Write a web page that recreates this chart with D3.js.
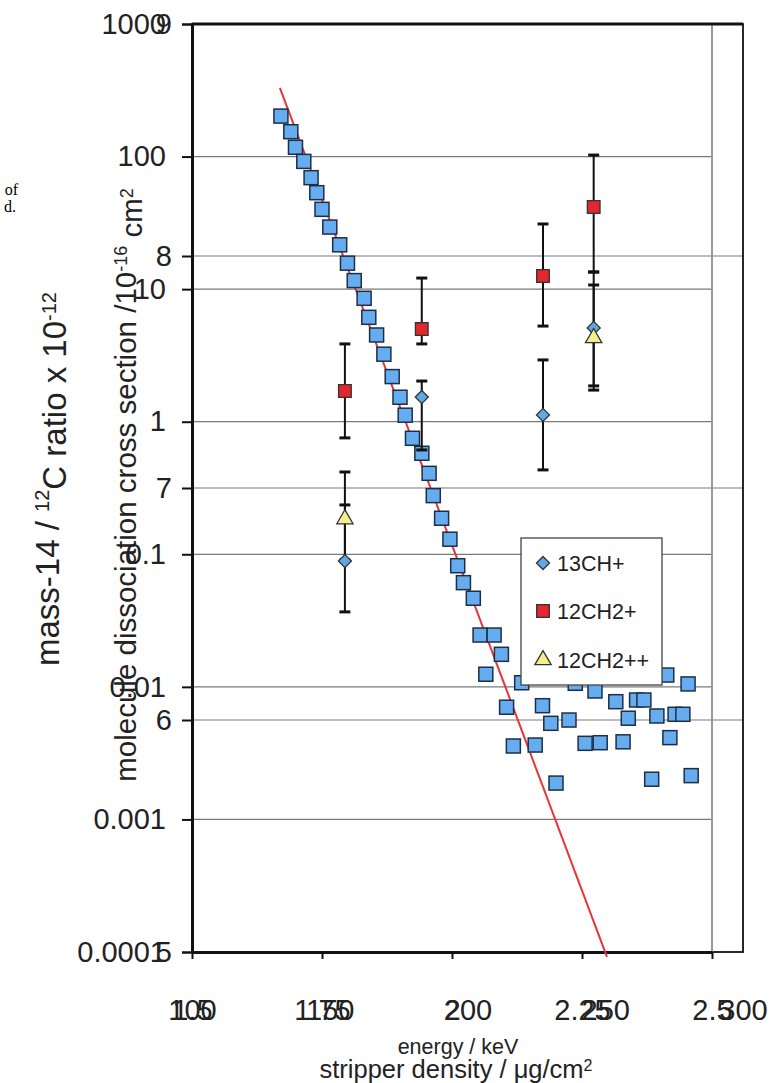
<!DOCTYPE html>
<head>
  <meta charset="utf-8">
  <style>
    body { margin: 0; background: #fff; }
    svg text { font-family: "Liberation Sans", Arial, sans-serif; fill: #222; }
    svg .grid { stroke: #7a7a7a; stroke-width: 1.2px; }
    svg .tick line { stroke: #111; stroke-width: 2px; }
  </style>
</head>
<body>
<script src="https://d3js.org/d3.v7.min.js"></script>
<script>
// ---- chart A: mass-14 ratio vs stripper density (log y) ----
var densityTicks = [1.5, 1.75, 2, 2.25, 2.5];
var ratioTicks = [1000, 100, 10, 1, 0.1, 0.01, 0.001, 0.0001];
var ratioGrid = [100, 10, 1, 0.1, 0.01, 0.001];

var density = [1.671, 1.690, 1.699, 1.715, 1.729, 1.740, 1.750, 1.765, 1.784, 1.799,
               1.812, 1.831, 1.840, 1.855, 1.869, 1.885, 1.900, 1.910, 1.924, 1.942,
               1.956, 1.964, 1.980, 1.996, 2.011, 2.022, 2.041, 2.054, 2.081, 2.095,
               2.065, 2.134, 2.237, 2.275, 2.413, 2.454, 2.105, 2.174, 2.315, 2.355,
               2.369, 2.190, 2.225, 2.339, 2.394, 2.429, 2.444, 2.118, 2.160, 2.256,
               2.285, 2.329, 2.419, 2.200, 2.384, 2.460];
var ratio = [202, 154, 117.5, 92, 69.3, 53.4, 40.0, 29.4, 21.6, 15.7,
             11.6, 8.53, 6.13, 4.51, 3.23, 2.19, 1.53, 1.12, 0.750, 0.578,
             0.408, 0.277, 0.187, 0.130, 0.0820, 0.0611, 0.0466, 0.0246, 0.0246, 0.0176,
             0.01245, 0.01074, 0.01064, 0.00931, 0.01228, 0.01052, 0.00702, 0.00721, 0.00773, 0.00796,
             0.00796, 0.00531, 0.00562, 0.00580, 0.00603, 0.00621, 0.00621, 0.00358, 0.00364, 0.00375,
             0.00379, 0.00385, 0.00414, 0.00188, 0.00201, 0.00214];

// fitted exponential, end points
var fitDensity = [1.669, 2.298];
var fitRatio = [330, 9.2e-5];

// ---- chart B: cross section vs energy (linear y) ----
var energyTicks = [100, 150, 200, 250, 300];
var crossTicks = [9, 8, 7, 6, 5];
var crossGrid = [8, 7, 6];

var energy   = [155.5, 183.4, 227.4, 245.8];
var ch13     = [6.685, 7.392, 7.315, 7.690];
var ch13Lo   = [6.466, 7.164, 7.078, 7.440];
var ch13Hi   = [6.927, 7.461, 7.552, 7.931];
var ch2      = [7.418, 7.685, 7.914, 8.211];
var ch2Lo    = [7.216, 7.621, 7.698, 7.931];
var ch2Hi    = [7.621, 7.905, 8.138, 8.435];
var ch2pp    = [6.866, null, null, 7.647];
var ch2ppLo  = [6.690, null, null, 7.422];
var ch2ppHi  = [7.069, null, null, 7.875];

var seriesNames = ["13CH+", "12CH2+", "12CH2++"];

// ---- layout ----
var W = 770, H = 1083;
var plotL = 192, plotRA = 712, plotRB = 743, plotT = 24, plotB = 952;

var svg = d3.select("body").append("svg")
    .attr("width", W).attr("height", H);

var xA = d3.scaleLinear().domain([1.5, 2.5]).range([plotL, plotRA]);
var yA = d3.scaleLog().domain([0.0001, 1000]).range([plotB, plotT]);
var xB = d3.scaleLinear().domain([100, 300]).range([plotL, plotRB]);
var yB = d3.scaleLinear().domain([5, 9]).range([plotB, plotT]);

// stray text from the page this was cut from
svg.append("text").attr("x", 18).attr("y", 195).attr("text-anchor", "end")
    .style("font-family", "'Liberation Serif', serif").style("font-size", "16px").style("fill", "#000").text("of");
svg.append("text").attr("x", 16).attr("y", 212).attr("text-anchor", "end")
    .style("font-family", "'Liberation Serif', serif").style("font-size", "16px").style("fill", "#000").text("d.");

// gridlines
svg.selectAll("line.gridA").data(ratioGrid).enter().append("line")
    .attr("class", "grid")
    .attr("x1", plotL).attr("x2", plotRA)
    .attr("y1", function(d) { return yA(d); }).attr("y2", function(d) { return yA(d); });
svg.selectAll("line.gridB").data(crossGrid).enter().append("line")
    .attr("class", "grid")
    .attr("x1", plotL).attr("x2", plotRB)
    .attr("y1", function(d) { return yB(d); }).attr("y2", function(d) { return yB(d); });

// frames
svg.append("rect")
    .attr("x", plotL).attr("y", plotT)
    .attr("width", plotRB - plotL).attr("height", plotB - plotT)
    .style("fill", "none").style("stroke", "#111").style("stroke-width", 1.8);
svg.append("line")
    .attr("x1", plotRA).attr("x2", plotRA).attr("y1", plotT).attr("y2", plotB)
    .style("stroke", "#999").style("stroke-width", 2);
svg.append("line")
    .attr("x1", plotL).attr("x2", plotRB).attr("y1", plotT).attr("y2", plotT)
    .style("stroke", "#111").style("stroke-width", 3);

// axes
var yAxisA = d3.axisLeft(yA).tickValues(ratioTicks)
    .tickFormat(function(d) { return String(d); })
    .tickSize(10).tickPadding(16).tickSizeOuter(0);
var gA = svg.append("g").attr("transform", "translate(" + plotL + ",0)").call(yAxisA);
gA.selectAll("text").style("font-size", "29px");

var yAxisB = d3.axisLeft(yB).tickValues(crossTicks)
    .tickFormat(function(d) { return String(d); })
    .tickSize(10).tickPadding(10).tickSizeOuter(0);
var gB = svg.append("g").attr("transform", "translate(" + plotL + ",0)").call(yAxisB);
gB.selectAll("text").style("font-size", "29px");
gB.select(".domain").remove();
gA.select(".domain").style("stroke", "#111").style("stroke-width", 3);

var xAxisA = d3.axisBottom(xA).tickValues(densityTicks)
    .tickFormat(function(d) { return String(d); })
    .tickSize(7).tickPadding(6).tickSizeOuter(0);
var gxA = svg.append("g").attr("transform", "translate(0," + plotB + ")").call(xAxisA);
gxA.selectAll("text").style("font-size", "29px").attr("y", 68).attr("dy", 0);
gxA.select(".domain").style("stroke", "#111").style("stroke-width", 3);

var xAxisB = d3.axisBottom(xB).tickValues(energyTicks)
    .tickFormat(function(d) { return String(d); })
    .tickSize(0).tickSizeOuter(0);
var gxB = svg.append("g").attr("transform", "translate(0," + plotB + ")").call(xAxisB);
gxB.selectAll("text").style("font-size", "29px").attr("y", 68).attr("dy", 0);
gxB.select(".domain").remove();

// axis titles
svg.append("text").attr("x", 458).attr("y", 1054).attr("text-anchor", "middle")
    .style("font-size", "21.5px").text("energy / keV");
var st = svg.append("text").attr("x", 456).attr("y", 1078).attr("text-anchor", "middle")
    .style("font-size", "25.5px");
st.append("tspan").text("stripper density / \u03bcg/cm");
st.append("tspan").attr("dy", "-0.45em").style("font-size", "16px").text("2");

var mt = svg.append("text").attr("text-anchor", "middle")
    .attr("transform", "translate(59,479) rotate(-90)")
    .style("font-size", "33px");
mt.append("tspan").text("mass-14 / ");
mt.append("tspan").attr("dy", "-0.5em").style("font-size", "20px").text("12");
mt.append("tspan").attr("dy", "0.5em").text("C ratio x 10");
mt.append("tspan").attr("dy", "-0.5em").style("font-size", "20px").text("-12");

var ct = svg.append("text").attr("text-anchor", "middle")
    .attr("transform", "translate(136,485) rotate(-90)")
    .style("font-size", "29.5px");
ct.append("tspan").text("molecule dissociation cross section /10");
ct.append("tspan").attr("dy", "-0.5em").style("font-size", "18px").text("-16");
ct.append("tspan").attr("dy", "0.5em").text(" cm");
ct.append("tspan").attr("dy", "-0.5em").style("font-size", "18px").text("2");

// fit line
svg.append("path")
    .datum(d3.zip(fitDensity, fitRatio))
    .attr("d", d3.line()
        .x(function(d) { return xA(d[0]); })
        .y(function(d) { return yA(d[1]); }))
    .style("fill", "none").style("stroke", "#e8343a").style("stroke-width", 2);

// blue squares
var sq = 14;
svg.selectAll("rect.pt").data(d3.zip(density, ratio)).enter().append("rect")
    .attr("class", "pt")
    .attr("x", function(d) { return xA(d[0]) - sq / 2; })
    .attr("y", function(d) { return yA(d[1]) - sq / 2; })
    .attr("width", sq).attr("height", sq)
    .style("fill", "#66acf0").style("stroke", "#1e2f44").style("stroke-width", 1.5);

// chart B series with error bars
var series = [
  { name: seriesNames[0], v: ch13, lo: ch13Lo, hi: ch13Hi, sym: "diamond", fill: "#5ea8e8" },
  { name: seriesNames[1], v: ch2,  lo: ch2Lo,  hi: ch2Hi,  sym: "square",  fill: "#e2272e" },
  { name: seriesNames[2], v: ch2pp, lo: ch2ppLo, hi: ch2ppHi, sym: "triangle", fill: "#f4ef8e" }
];

function marker(sel, s) {
  if (s.sym === "diamond") {
    sel.attr("d", d3.symbol().type(d3.symbolSquare).size(85));
  } else if (s.sym === "square") {
    sel.attr("d", d3.symbol().type(d3.symbolSquare).size(160));
  } else {
    sel.attr("d", d3.symbol().type(d3.symbolTriangle).size(115));
  }
  sel.style("fill", s.fill).style("stroke", "#333").style("stroke-width", 1.3);
}

var cap = 5.5;
series.forEach(function(s) {
  var pts = energy.map(function(e, i) {
    return { e: e, v: s.v[i], lo: s.lo[i], hi: s.hi[i] };
  }).filter(function(d) { return d.v !== null; });
  var g = svg.append("g");
  g.selectAll("line.bar").data(pts).enter().append("line")
      .attr("x1", function(d) { return xB(d.e); }).attr("x2", function(d) { return xB(d.e); })
      .attr("y1", function(d) { return yB(d.lo); }).attr("y2", function(d) { return yB(d.hi); })
      .style("stroke", "#111").style("stroke-width", 2);
  ["lo", "hi"].forEach(function(k) {
    g.selectAll("line.cap" + k).data(pts).enter().append("line")
        .attr("x1", function(d) { return xB(d.e) - cap; }).attr("x2", function(d) { return xB(d.e) + cap; })
        .attr("y1", function(d) { return yB(d[k]); }).attr("y2", function(d) { return yB(d[k]); })
        .style("stroke", "#111").style("stroke-width", 3);
  });
});
series.forEach(function(s) {
  var pts = energy.map(function(e, i) { return { e: e, v: s.v[i] }; })
      .filter(function(d) { return d.v !== null; });
  svg.selectAll(null).data(pts).enter().append("path")
      .call(marker, s)
      .attr("transform", function(d) {
        return "translate(" + xB(d.e) + "," + yB(d.v) + ")" + (s.sym === "diamond" ? " rotate(45)" : "");
      });
});

// legend
var lg = svg.append("g").attr("transform", "translate(521,538)");
lg.append("rect").attr("width", 141).attr("height", 147)
    .style("fill", "#fff").style("stroke", "#444").style("stroke-width", 1.3);
var rowY = [25, 73, 122];
series.forEach(function(s, i) {
  lg.append("path").call(marker, s)
      .attr("transform", "translate(22," + rowY[i] + ")" + (s.sym === "diamond" ? " rotate(45)" : ""));
  lg.append("text").attr("x", 36).attr("y", rowY[i] + 8)
      .style("font-size", "21.5px").text(s.name);
});
</script>
</body>
</html>
